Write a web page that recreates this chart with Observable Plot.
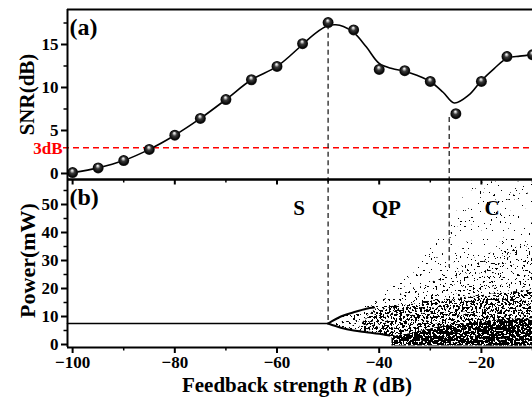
<!DOCTYPE html>
<html><head><meta charset="utf-8">
<script src="https://cdn.jsdelivr.net/npm/d3@7"></script>
<script src="https://cdn.jsdelivr.net/npm/@observablehq/plot@0.6"></script>
<style>
html,body{margin:0;padding:0;background:#fff;overflow:hidden;}
#chart{position:relative;width:532px;height:401px;}
#chart svg{position:absolute;left:0;}
</style></head><body><div id="chart"></div>
<script>
// ---------- data ----------
const snrR  = [-100,-95,-90,-85,-80,-75,-70,-65,-60,-55,-50,-45,-40,-35,-30,-25,-20,-15,-10];
const snrDB = [0.1,0.65,1.5,2.8,4.45,6.4,8.6,10.9,12.45,15.1,17.55,16.7,12.1,11.95,10.7,6.95,10.7,13.6,13.8];
const fitR  = [-100,-95,-90,-85,-80,-75,-70,-65,-60,-55,-52.5,-50,-48.5,-47,-45,-42.5,-40,-37.5,-35,-32.5,-30,-27.5,-25.3,-22.5,-20,-17.5,-15,-12.5,-10];
const fitDB = [0.1,0.65,1.5,2.8,4.45,6.4,8.6,10.9,12.45,15.0,16.3,17.2,17.3,17.1,16.4,14.7,12.8,12.2,11.9,11.4,10.7,9.45,8.2,9.1,10.8,12.2,13.4,13.65,13.8];
const threshold = [3];
const thresholdLabel = ["3dB"];
const boundaryR = [-50, -26.3];
const boundarySNR = [17.3, 6.5];
const boundaryPower = [7.5, 27.5];
const stableR = [-101, -50];
const stableP = [7.5, 7.5];
const cloudR      = [-50,-47.5,-45,-42.5,-40,-37.5,-35,-32.5,-30,-27.5,-25,-22.5,-20,-17.5,-15,-12.5,-10];
const cloudLow    = [7.5,6.0,5.0,4.4,3.6,2.6,1.6,1.0,0.5,0.2,0,-0.3,-0.4,-0.5,-0.5,-0.5,-0.5];
const cloudSparse = [7.5,10.0,11.8,13.8,17,21,25,29,34,41,48,55,58,58,58,58,58];
const cloudMedium = [7.5,9.8,11.5,13.2,15.5,17,18.5,20,22,24.5,27,29,31,33,34,35,36];
const denseR      = [-44,-42.5,-40,-37.5,-35,-32.5,-30,-27.5,-25,-22.5,-20,-17.5,-15,-12.5,-10];
const denseLow    = [4.8,4.4,3.6,2.6,1.6,1.0,0.5,0.2,0,-0.3,-0.4,-0.5,-0.5,-0.5,-0.5];
const denseTop    = [5.6,9.5,13.2,13.6,14,14.6,15.5,16,16.5,17,17.5,18,18.5,19,19.5];
const coreR       = [-37.5,-35,-32.5,-30,-27.5,-25,-22.5,-20,-17.5,-15,-12.5,-10];
const coreTop     = [3,3.5,4.5,5.5,6.5,7,7.5,8,8.5,9,9,9];
const lensUpR = [-50,-47.5,-45,-42.5,-41];
const lensUpP = [7.5,10.0,11.5,12.8,13.2];
const lensLoR = [-50,-47.5,-45,-42.5,-40,-38];
const lensLoP = [7.5,6.0,5.0,4.4,3.8,3.2];
const regionNames = ["S","QP","C"];
const regionR = [-55.7,-38.6,-17.9];
const regionP = [48.6,48.6,48.6];
const xMajor = [-100,-80,-60,-40,-20];
const xMinor = [-90,-70,-50,-30,-10];
const aMajor = [0,5,10,15];
const aMinor = [7.5,12.5,17.5];
const bMajor = [0,10,20,30,40,50];
const bMinor = [5,15,25,35,45,55];

// ---------- scales ----------
const xDomain = [-101, -10];
const aY = [-0.70, 19.07];
const bY = [-1.07, 58.93];
const xPPU = 465 / (xDomain[1] - xDomain[0]);
const bPPU = 168 / (bY[1] - bY[0]);
const fmt = d => d < 0 ? "\u2212" + Math.abs(d) : String(d);
const fontFam = "'Liberation Serif','Times New Roman',serif";
const baseStyle = {fontFamily: fontFam, fontWeight: "bold", fontSize: "17px", background: "transparent", overflow: "visible", color: "black"};

const snr = snrR.map((r, i) => ({r, v: snrDB[i]}));
const fit = fitR.map((r, i) => ({r, v: fitDB[i]}));
const bounds = boundaryR.map((r, i) => ({r, s: boundarySNR[i], p: boundaryPower[i]}));
const thr = threshold.map((v, i) => ({v, t: thresholdLabel[i]}));
const stable = stableR.map((r, i) => ({r, p: stableP[i]}));
const cloud = cloudR.map((r, i) => ({r, lo: cloudLow[i], sp: cloudSparse[i], md: cloudMedium[i]}));
const dense = denseR.map((r, i) => ({r, lo: denseLow[i], hi: denseTop[i]}));
const core = coreR.map((r, i) => ({r, lo: -0.5, hi: coreTop[i]}));
const lensUp = lensUpR.map((r, i) => ({r, p: lensUpP[i]}));
const lensLo = lensLoR.map((r, i) => ({r, p: lensLoP[i]}));
const regions = regionNames.map((t, i) => ({t, r: regionR[i], p: regionP[i]}));

const leftMinor = (vals) => Plot.ruleY(vals, {x1: xDomain[0], x2: xDomain[0] - 3.5 / xPPU, strokeWidth: 1.5});

// ---------- panel (a) ----------
const plotA = Plot.plot({
  width: 532, height: 182, marginTop: 9, marginBottom: 3, marginLeft: 67, marginRight: 0,
  style: baseStyle,
  x: {domain: xDomain, axis: null},
  y: {domain: aY, axis: null},
  marks: [
    Plot.ruleY(thr, {y: "v", x1: xDomain[0] - 4 / xPPU, x2: xDomain[1], stroke: "#ff0000", strokeDasharray: "6,4", strokeWidth: 1.4}),
    Plot.ruleX(bounds, {x: "r", y1: "s", y2: aY[0], stroke: "#222", strokeDasharray: "5,3.5", strokeWidth: 1.3}),
    Plot.line(fit, {x: "r", y: "v", curve: "catmull-rom", strokeWidth: 1.6}),
    Plot.dot(snr, {x: "r", y: "v", r: 5.5, fill: "url(#ball)"}),
    Plot.ruleY([aY[1]], {strokeWidth: 2}),
    Plot.ruleY([aY[0]], {strokeWidth: 2}),
    Plot.ruleX([xDomain[0]], {strokeWidth: 2}),
    Plot.axisY(aMajor, {tickSize: 6, tickPadding: 3, strokeWidth: 2, tickFormat: fmt, label: null}),
    leftMinor(aMinor),
    Plot.text(thr, {frameAnchor: "left", y: "v", text: "t", dx: -5, dy: 1, textAnchor: "end", fill: "#ff0000", fontSize: 17}),
    Plot.text(["SNR(dB)"], {frameAnchor: "left", dx: -40, rotate: -90, textAnchor: "middle", fontSize: 21}),
    Plot.text(["(a)"], {frameAnchor: "top-left", dx: 2, dy: 8, fontSize: 24, textAnchor: "start", lineAnchor: "top"})
  ]
});

// ---------- panel (b) ----------
const plotB = Plot.plot({
  width: 532, height: 231, marginTop: 9, marginBottom: 54, marginLeft: 67, marginRight: 0,
  style: baseStyle,
  x: {domain: xDomain, axis: null},
  y: {domain: bY, axis: null},
  marks: [
    Plot.areaY(cloud, {x: "r", y1: "lo", y2: "sp", fill: "url(#spk1)", curve: "catmull-rom"}),
    Plot.areaY(cloud, {x: "r", y1: "lo", y2: "md", fill: "url(#spk2)", curve: "catmull-rom"}),
    Plot.areaY(dense, {x: "r", y1: "lo", y2: "hi", fill: "url(#spk3)", curve: "catmull-rom"}),
    Plot.areaY(core, {x: "r", y1: "lo", y2: "hi", fill: "url(#spk4)", curve: "catmull-rom"}),
    Plot.line(lensUp, {x: "r", y: "p", curve: "catmull-rom", strokeWidth: 2}),
    Plot.line(lensLo, {x: "r", y: "p", curve: "catmull-rom", strokeWidth: 2}),
    Plot.line(stable, {x: "r", y: "p", strokeWidth: 1.6}),
    Plot.ruleX(bounds, {x: "r", y1: bY[1], y2: "p", stroke: "#222", strokeDasharray: "5,3.5", strokeWidth: 1.3}),
    Plot.text(regions, {x: "r", y: "p", text: "t", fontSize: 21}),
    Plot.ruleY([bY[1]], {strokeWidth: 2}),
    Plot.ruleY([bY[0]], {strokeWidth: 2}),
    Plot.ruleX([xDomain[0]], {strokeWidth: 2}),
    Plot.ruleX(xMajor, {y1: bY[1], y2: bY[1] - 5.5 / bPPU, strokeWidth: 2}),
    Plot.ruleX(xMinor, {y1: bY[1], y2: bY[1] - 3.5 / bPPU, strokeWidth: 1.5}),
    Plot.axisY(bMajor, {tickSize: 6, tickPadding: 3, strokeWidth: 2, tickFormat: fmt, label: null}),
    leftMinor(bMinor),
    Plot.axisX(xMajor, {tickSize: 6, tickPadding: 2, strokeWidth: 2, tickFormat: fmt, label: null}),
    Plot.ruleX(xMinor, {y1: bY[0], y2: bY[0] - 3.5 / bPPU, strokeWidth: 1.5}),
    Plot.text(["Power(mW)"], {frameAnchor: "left", dx: -40, dy: -3, rotate: -90, textAnchor: "middle", fontSize: 22}),
    Plot.text(["Feedback strength R (dB)"], {frameAnchor: "bottom", dy: 44, dx: -3, lineAnchor: "bottom", fontSize: 21}),
    Plot.text(["(b)"], {frameAnchor: "top-left", dx: 2, dy: 8, fontSize: 24, textAnchor: "start", lineAnchor: "top"})
  ]
});

const chart = document.getElementById("chart");
plotA.style.top = "0px";
plotB.style.top = "170px";
chart.appendChild(plotA);
chart.appendChild(plotB);

d3.select(plotA).insert("defs", ":first-child").html(`
<radialGradient id="ball" cx="0.5" cy="0.5" r="0.5" fx="0.45" fy="0.28">
<stop offset="0" stop-color="#ffffff"/><stop offset="0.16" stop-color="#c8c8c8"/>
<stop offset="0.42" stop-color="#3a3a3a"/><stop offset="0.85" stop-color="#050505"/><stop offset="1" stop-color="#2a2a2a"/>
</radialGradient>`);

// speckle textures (style only): thresholded noise gives dot-like stippling
const nz = (id, t) => `<filter id="${id}" x="0" y="0" width="1" height="1" color-interpolation-filters="sRGB">
<feTurbulence type="fractalNoise" baseFrequency="0.45" numOctaves="2" seed="5"/>
<feColorMatrix type="matrix" values="0 0 0 0 0  0 0 0 0 0  0 0 0 0 0  -60 0 0 0 ${(60 * t).toFixed(2)}"/></filter>`;
const pat = (id, f) => `<pattern id="${id}" patternUnits="userSpaceOnUse" x="0" y="0" width="532" height="231"><rect width="532" height="231" filter="url(#${f})"/></pattern>`;
d3.select(plotB).insert("defs", ":first-child").html(
  nz("nz1", 0.27) + nz("nz2", 0.36) + nz("nz3", 0.48) + nz("nz4", 0.6) +
  pat("spk1", "nz1") + pat("spk2", "nz2") + pat("spk3", "nz3") + pat("spk4", "nz4"));

d3.select(plotB).selectAll("text").filter(function() { return this.textContent === "Feedback strength R (dB)"; })
  .html('Feedback strength <tspan font-style="italic">R</tspan> (dB)');
</script></body></html>
